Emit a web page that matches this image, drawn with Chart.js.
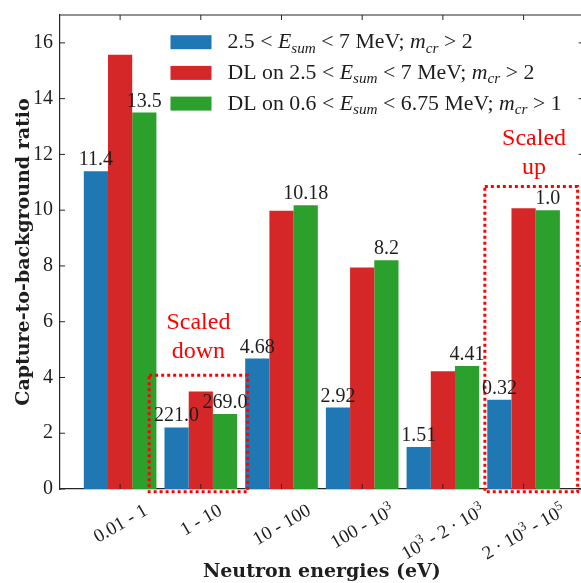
<!DOCTYPE html>
<html>
<head>
<meta charset="utf-8">
<script src="https://cdn.jsdelivr.net/npm/chart.js@4.4.1/dist/chart.umd.min.js"></script>
<style>
html, body { margin: 0; padding: 0; overflow: hidden; background: #ffffff; }
canvas { display: block; }
</style>
</head>
<body>
<canvas id="chart" width="600" height="583" style="width:600px;height:583px"></canvas>
<script>
// ---------------- data ----------------
const categories = ['0.01 - 1', '1 - 10', '10 - 100', '100 - 10³', '10³ - 2 · 10³', '2 · 10³ - 10⁵'];
const seriesNames = [
  '2.5 < E_sum < 7 MeV; m_cr > 2',
  'DL on 2.5 < E_sum < 7 MeV; m_cr > 2',
  'DL on 0.6 < E_sum < 6.75 MeV; m_cr > 1'
];
const blueValues  = [11.4, 2.21, 4.68, 2.92, 1.51, 3.2];
const redValues   = [15.57, 3.5, 9.98, 7.94, 4.22, 10.07];
const greenValues = [13.5, 2.69, 10.18, 8.2, 4.41, 10.0];
const blueLabels  = ['11.4', '221.0', '4.68', '2.92', '1.51', '0.32'];
const greenLabels = ['13.5', '269.0', '10.18', '8.2', '4.41', '1.0'];
const yTicks = [0, 2, 4, 6, 8, 10, 12, 14, 16];

// annotations (in data units)
const scaledBoxes = [
  { from: 0.36, to: 1.58, bottom: -0.1, top: 4.08 },
  { from: 4.52, to: 5.67, bottom: -0.1, top: 10.85 }
];
const scaledNotes = [
  { lines: ['Scaled', 'down'], x: 0.97, y: [5.74, 4.70] },
  { lines: ['Scaled', 'up'], x: 5.13, y: [12.35, 11.31] }
];

const COLORS = ['#1f77b4', '#d62728', '#2ca02c'];
const SERIF = '"Liberation Serif", "Times New Roman", serif';
const TEXT = '#1e1e1e';

// ---------------- rich text helpers ----------------
const SUP = { '⁰':'0','¹':'1','²':'2','³':'3','⁴':'4','⁵':'5','⁶':'6','⁷':'7','⁸':'8','⁹':'9' };
function tickSegments(str) {
  const segs = [];
  for (const ch of str) {
    const sup = SUP[ch] !== undefined;
    const t = sup ? SUP[ch] : ch;
    const last = segs[segs.length - 1];
    if (last && last.sup === sup) last.t += t; else segs.push({ t, sup, it: false, sub: false });
  }
  return segs;
}
function legendSegments(str) {
  const segs = [];
  const re = /([A-Za-z])_([a-z]+)/g;
  let idx = 0, m;
  while ((m = re.exec(str)) !== null) {
    if (m.index > idx) segs.push({ t: str.slice(idx, m.index), it: false, sub: false, sup: false });
    segs.push({ t: m[1], it: true, sub: false, sup: false });
    segs.push({ t: m[2], it: true, sub: true, sup: false });
    idx = m.index + m[0].length;
  }
  if (idx < str.length) segs.push({ t: str.slice(idx), it: false, sub: false, sup: false });
  return segs;
}
function segFont(s, size) {
  const sz = (s.sub || s.sup) ? size * 0.7 : size;
  return (s.it ? 'italic ' : '') + sz + 'px ' + SERIF;
}
function richWidth(ctx, segs, size) {
  let w = 0;
  for (const s of segs) { ctx.font = segFont(s, size); w += ctx.measureText(s.t).width; }
  return w;
}
function drawRich(ctx, segs, x, y, size) {
  ctx.textAlign = 'left';
  ctx.textBaseline = 'alphabetic';
  for (const s of segs) {
    ctx.font = segFont(s, size);
    let dy = 0;
    if (s.sub) dy = size * 0.22;
    if (s.sup) dy = -size * 0.38;
    ctx.fillText(s.t, x, y + dy);
    x += ctx.measureText(s.t).width;
  }
}

// ---------------- custom drawing plugin ----------------
const decorations = {
  id: 'decorations',
  afterDatasetsDraw(chart) {
    const { ctx, chartArea: ca, scales: { x, y } } = chart;
    ctx.save();
    // top and right spines
    ctx.strokeStyle = '#262626';
    ctx.lineWidth = 1.2;
    ctx.beginPath();
    ctx.moveTo(ca.left, ca.top); ctx.lineTo(ca.right, ca.top);
    ctx.moveTo(ca.right, ca.top); ctx.lineTo(ca.right, ca.bottom);
    ctx.stroke();
    // inward tick marks
    const TL = 5;
    ctx.lineWidth = 1;
    ctx.beginPath();
    categories.forEach((c, i) => {
      const px = x.getPixelForValue(i);
      ctx.moveTo(px, ca.bottom); ctx.lineTo(px, ca.bottom - TL);
      ctx.moveTo(px, ca.top); ctx.lineTo(px, ca.top + TL);
    });
    yTicks.forEach(v => {
      const py = y.getPixelForValue(v);
      ctx.moveTo(ca.left, py); ctx.lineTo(ca.left + TL, py);
      ctx.moveTo(ca.right, py); ctx.lineTo(ca.right - TL, py);
    });
    ctx.stroke();

    // dotted boxes
    ctx.strokeStyle = '#ff0000';
    ctx.lineWidth = 3;
    ctx.setLineDash([3, 3]);
    scaledBoxes.forEach(b => {
      const x0 = x.getPixelForValue(b.from), x1 = x.getPixelForValue(b.to);
      const y0 = y.getPixelForValue(b.top), y1 = y.getPixelForValue(b.bottom);
      ctx.strokeRect(x0, y0, x1 - x0, y1 - y0);
    });
    ctx.setLineDash([]);

    // value labels above blue and green bars
    ctx.fillStyle = TEXT;
    ctx.font = '20px ' + SERIF;
    ctx.textAlign = 'center';
    ctx.textBaseline = 'alphabetic';
    [[0, blueLabels], [2, greenLabels]].forEach(([di, labels]) => {
      const meta = chart.getDatasetMeta(di);
      meta.data.forEach((bar, i) => {
        ctx.fillText(labels[i], bar.x, bar.y - 6);
      });
    });

    // scaled notes
    ctx.fillStyle = '#ff0000';
    ctx.font = '24px ' + SERIF;
    scaledNotes.forEach(n => {
      n.lines.forEach((t, k) => {
        ctx.fillText(t, x.getPixelForValue(n.x), y.getPixelForValue(n.y[k]));
      });
    });

    // legend
    const lx = ca.left + 110.5, ly = ca.top + 27.2, dyRow = 30.7;
    seriesNames.forEach((name, i) => {
      const cy = ly + i * dyRow;
      ctx.fillStyle = COLORS[i];
      ctx.fillRect(lx, cy - 7, 41, 14);
      ctx.fillStyle = TEXT;
      ctx.save();
      ctx.translate(lx + 57, cy + 6);
      ctx.scale(1.09, 1);
      drawRich(ctx, legendSegments(name), 0, 0, 20);
      ctx.restore();
    });
    ctx.restore();
  },
  afterDraw(chart) {
    const { ctx, chartArea: ca, scales: { x } } = chart;
    ctx.save();
    ctx.fillStyle = TEXT;
    const size = 19, ang = Math.PI / 6, h = size * 0.9;
    categories.forEach((c, i) => {
      const segs = tickSegments(c);
      const w = richWidth(ctx, segs, size);
      const top = ca.bottom + 12;
      const cx = x.getPixelForValue(i);
      const cy = top + (w * Math.sin(ang) + h * Math.cos(ang)) / 2;
      ctx.save();
      ctx.translate(cx, cy);
      ctx.rotate(-ang);
      drawRich(ctx, segs, -w / 2, size * 0.33, size);
      ctx.restore();
    });
    ctx.restore();
  }
};

// ---------------- chart ----------------
const toPoints = arr => arr.map((v, i) => ({ x: i, y: v }));
new Chart(document.getElementById('chart'), {
  type: 'bar',
  data: {
    datasets: [
      { label: seriesNames[0], data: toPoints(blueValues),  backgroundColor: COLORS[0] },
      { label: seriesNames[1], data: toPoints(redValues),   backgroundColor: COLORS[1] },
      { label: seriesNames[2], data: toPoints(greenValues), backgroundColor: COLORS[2] }
    ]
  },
  options: {
    responsive: false,
    animation: false,
    devicePixelRatio: 1,
    layout: { padding: { top: 15, right: 16.3, left: 0, bottom: 0 } },
    datasets: { bar: { categoryPercentage: 0.9, barPercentage: 1.0, borderWidth: 0 } },
    plugins: { legend: { display: false }, tooltip: { enabled: false } },
    scales: {
      x: {
        type: 'linear', min: -0.745, max: 5.745, offset: false,
        grid: { display: false, drawTicks: false },
        border: { display: true, color: '#262626', width: 1.2 },
        ticks: { display: false },
        afterBuildTicks: s => { s.ticks = categories.map((c, i) => ({ value: i })); },
        afterFit: s => { s.height = 94; s.paddingLeft = 0; s.paddingRight = 0; },
        title: {
          display: true, text: 'Neutron energies (eV)', color: TEXT,
          font: { family: 'DejaVu Serif', weight: 'bold', size: 19, lineHeight: 1 },
          padding: { top: 0, bottom: 1 }
        }
      },
      y: {
        type: 'linear', min: 0, max: 17,
        grid: { display: false, drawTicks: false },
        border: { display: true, color: '#262626', width: 1.2 },
        afterBuildTicks: s => { s.ticks = yTicks.map(v => ({ value: v })); },
        afterFit: s => { s.width = 60; s.paddingTop = 0; s.paddingBottom = 0; },
        ticks: { font: { family: 'Liberation Serif', size: 20 }, color: TEXT, padding: 7 },
        title: {
          display: true, text: 'Capture-to-background ratio', color: TEXT,
          font: { family: 'DejaVu Serif', weight: 'bold', size: 19 },
          padding: { top: 13, bottom: 0 }
        }
      }
    }
  },
  plugins: [decorations]
});
</script>
</body>
</html>
